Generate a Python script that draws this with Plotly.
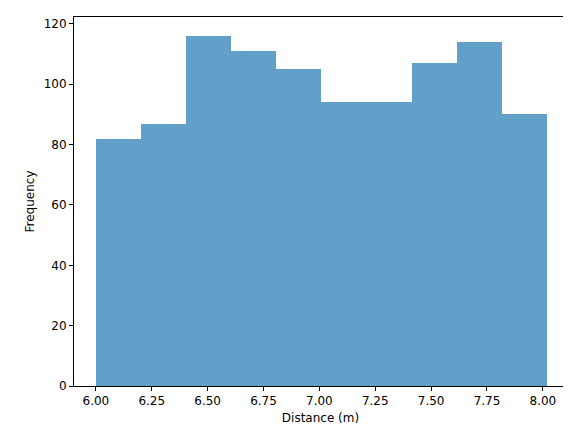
import numpy as np
import plotly.graph_objects as go

# histogram of distances, 10 bins
bin_start, bin_end = 6.0, 8.018
counts = [82, 87, 116, 111, 105, 94, 94, 107, 114, 90]
x_ticks = [6.00, 6.25, 6.50, 6.75, 7.00, 7.25, 7.50, 7.75, 8.00]
y_ticks = [0, 20, 40, 60, 80, 100, 120]

edges = np.linspace(bin_start, bin_end, len(counts) + 1)
centers = (edges[:-1] + edges[1:]) / 2
width = edges[1] - edges[0]

fig = go.Figure(go.Bar(
    x=centers, y=counts, width=width,
    marker=dict(color="rgba(31,119,180,0.7)", line=dict(width=0)),
))

axis_style = dict(
    showline=True, linecolor="black", linewidth=1, mirror=True,
    showgrid=False, zeroline=False, ticks="outside", ticklen=4,
    tickcolor="black", tickfont=dict(size=12, color="black"),
    automargin=False,
)
fig.update_xaxes(range=[5.902, 8.108], tickvals=x_ticks,
                 ticktext=[f"{t:.2f}" for t in x_ticks],
                 title=dict(text="Distance (m)", font=dict(size=12, color="black"), standoff=6),
                 **axis_style)
fig.update_yaxes(range=[0, 122.3], tickvals=y_ticks,
                 title=dict(text="Frequency", font=dict(size=12, color="black"), standoff=6),
                 **axis_style)
fig.update_layout(
    width=571, height=432, bargap=0,
    margin=dict(l=66, r=12, t=9, b=54),
    plot_bgcolor="white", paper_bgcolor="white",
    font=dict(family="DejaVu Sans"), showlegend=False,
)
fig.write_html("out.html")
